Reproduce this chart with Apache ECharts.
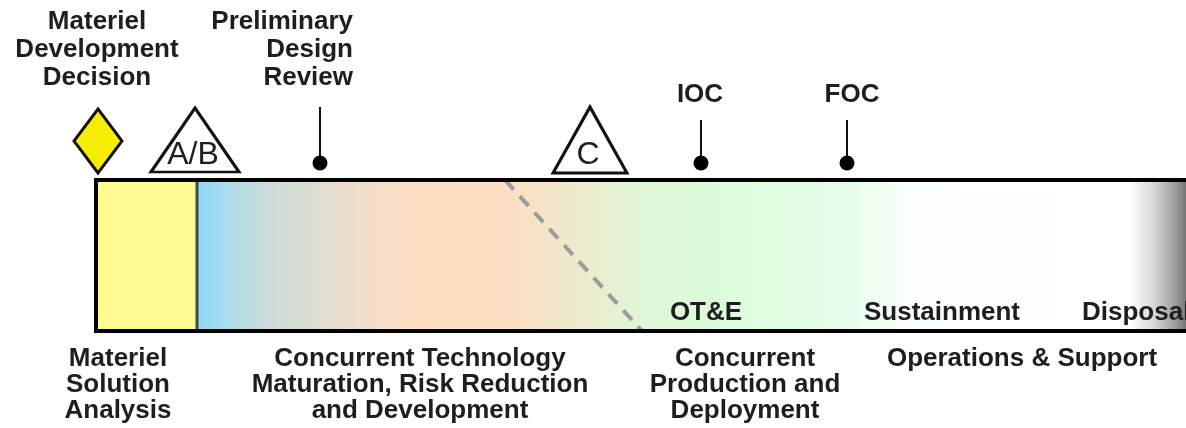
<!DOCTYPE html>
<html>
<head>
<meta charset="utf-8">
<script src="https://cdn.jsdelivr.net/npm/echarts@6/dist/echarts.min.js"></script>
<style>
html, body { margin: 0; padding: 0; background: #fff; }
#chart { width: 1186px; height: 428px; }
</style>
</head>
<body>
<div id="chart"></div>
<script>
// timeline units: x runs left to right, y runs downward
var barTop = 180, barBottom = 331;
var blockStart = [96, 197];
var blockEnd = [197, 1200];

var mddX = [98];
var decisionNames = ['A/B', 'C'];
var decisionX = [195, 590];

var pinNames = ['PDR', 'IOC', 'FOC'];
var pinX = [320, 701, 847];
var pinTop = [107, 120, 120];

var topLabels = ['Materiel\nDevelopment\nDecision', 'Preliminary\nDesign\nReview', 'IOC', 'FOC'];
var topLabelX = [97, 353, 700, 852];
var topLabelY = [50, 50, 95, 95];

var activityNames = ['OT&E', 'Sustainment', 'Disposal'];
var activityX = [706, 942, 1082];

var phaseNames = ['Materiel\nSolution\nAnalysis',
    'Concurrent Technology\nMaturation, Risk Reduction\nand Development',
    'Concurrent\nProduction and\nDeployment',
    'Operations & Support'];
var phaseLabelX = [118, 420, 745, 1022];

var overlapLine = [[505, barTop], [642, barBottom]];

var FONT = 'bold 26px "Liberation Sans", Arial, sans-serif';
var topAlign = ['center', 'right', 'center', 'center'];
var actAlign = ['center', 'center', 'left'];

var phaseGradient = new echarts.graphic.LinearGradient(0, 0, 1, 0, [
    { offset: 0.000, color: '#8fd6f8' },
    { offset: 0.020, color: '#a2dcf2' },
    { offset: 0.064, color: '#c9dcda' },
    { offset: 0.124, color: '#e0ddd1' },
    { offset: 0.184, color: '#f7dec6' },
    { offset: 0.224, color: '#fddec3' },
    { offset: 0.314, color: '#fcdfc4' },
    { offset: 0.374, color: '#eeeacb' },
    { offset: 0.444, color: '#e0f6d8' },
    { offset: 0.524, color: '#dcfcdc' },
    { offset: 0.644, color: '#e6fdea' },
    { offset: 0.714, color: '#fbfffb' },
    { offset: 0.929, color: '#ffffff' },
    { offset: 0.954, color: '#d8d8d8' },
    { offset: 0.974, color: '#a0a0a0' },
    { offset: 0.990, color: '#686868' },
    { offset: 1.000, color: '#555555' }
]);

function textSeries(names, xs, ys, align, vAlign, font, lh, color) {
    return {
        type: 'custom',
        data: xs.map(function (x, i) { return [x, ys[i]]; }),
        renderItem: function (params, api) {
            var p = api.coord([api.value(0), api.value(1)]);
            var a = Array.isArray(align) ? align[params.dataIndex] : align;
            return {
                type: 'text', x: p[0], y: p[1],
                style: {
                    text: names[params.dataIndex], fill: color || '#1e1e1e',
                    font: font, align: a, verticalAlign: vAlign, lineHeight: lh
                }
            };
        }
    };
}

var option = {
    animation: false,
    grid: { left: 0, right: 0, top: 0, bottom: 0 },
    xAxis: { type: 'value', min: 0, max: 1186, show: false },
    yAxis: { type: 'value', min: 0, max: 428, inverse: true, show: false },
    series: [
        {   // phase blocks
            type: 'custom',
            data: blockStart.map(function (s, i) { return [s, blockEnd[i]]; }),
            renderItem: function (params, api) {
                var p0 = api.coord([api.value(0), barTop]);
                var p1 = api.coord([api.value(1), barBottom]);
                return {
                    type: 'rect',
                    shape: { x: p0[0], y: p0[1], width: p1[0] - p0[0], height: p1[1] - p0[1] },
                    style: { fill: params.dataIndex === 0 ? '#fdfb92' : phaseGradient }
                };
            }
        },
        {   // overlap of development and production
            type: 'lines',
            coordinateSystem: 'cartesian2d',
            data: [{ coords: overlapLine }],
            lineStyle: { color: '#9c9c9c', width: 4, type: [13, 9], opacity: 1 }
        },
        {   // outline and divider
            type: 'custom',
            data: [[blockStart[0], blockEnd[blockEnd.length - 1]]],
            renderItem: function (params, api) {
                var p0 = api.coord([api.value(0), barTop]);
                var p1 = api.coord([api.value(1), barBottom]);
                var d = api.coord([blockStart[1], barTop]);
                return {
                    type: 'group',
                    children: [
                        { type: 'line', shape: { x1: d[0], y1: p0[1], x2: d[0], y2: p1[1] },
                          style: { stroke: '#3b4a3c', lineWidth: 3 } },
                        { type: 'rect', shape: { x: p0[0], y: p0[1], width: p1[0] - p0[0], height: p1[1] - p0[1] },
                          style: { fill: 'none', stroke: '#000', lineWidth: 4 } }
                    ]
                };
            }
        },
        {   // reviews and capability pins
            type: 'custom',
            data: pinX.map(function (x, i) { return [x, pinTop[i]]; }),
            renderItem: function (params, api) {
                var top = api.coord([api.value(0), api.value(1)]);
                var dot = api.coord([api.value(0), 163]);
                return {
                    type: 'group',
                    children: [
                        { type: 'line', shape: { x1: top[0], y1: top[1], x2: dot[0], y2: dot[1] },
                          style: { stroke: '#111', lineWidth: 2 } },
                        { type: 'circle', shape: { cx: dot[0], cy: dot[1], r: 7.5 }, style: { fill: '#000' } }
                    ]
                };
            }
        },
        {   // materiel development decision
            type: 'scatter',
            data: mddX.map(function (x) { return [x, 141]; }),
            symbol: 'diamond',
            symbolSize: [48, 64],
            itemStyle: { color: '#f6ee00', borderColor: '#111', borderWidth: 3, opacity: 1 }
        },
        {   // milestone decisions
            type: 'scatter',
            data: decisionX.map(function (x, i) { return { name: decisionNames[i], value: [x, 140] }; }),
            symbol: 'triangle',
            symbolSize: function (v, p) { return p.dataIndex === 0 ? [88, 64] : [74, 66]; },
            itemStyle: { color: '#fff', borderColor: '#111', borderWidth: 3, opacity: 1 },
            label: {
                show: true, position: 'inside', formatter: '{b}',
                color: '#1e1e1e', fontFamily: 'Liberation Sans', fontSize: 32,
                offset: [-2, 15]
            }
        },
        textSeries(topLabels, topLabelX, topLabelY, topAlign, 'middle', FONT, 28),
        textSeries(activityNames, activityX, [313, 313, 313], actAlign, 'middle', FONT, 28),
        textSeries(phaseNames, phaseLabelX, [346, 346, 346, 346], 'center', 'top', FONT, 26)
    ]
};

var chart = echarts.init(document.getElementById('chart'));
chart.setOption(option);
</script>
</body>
</html>
